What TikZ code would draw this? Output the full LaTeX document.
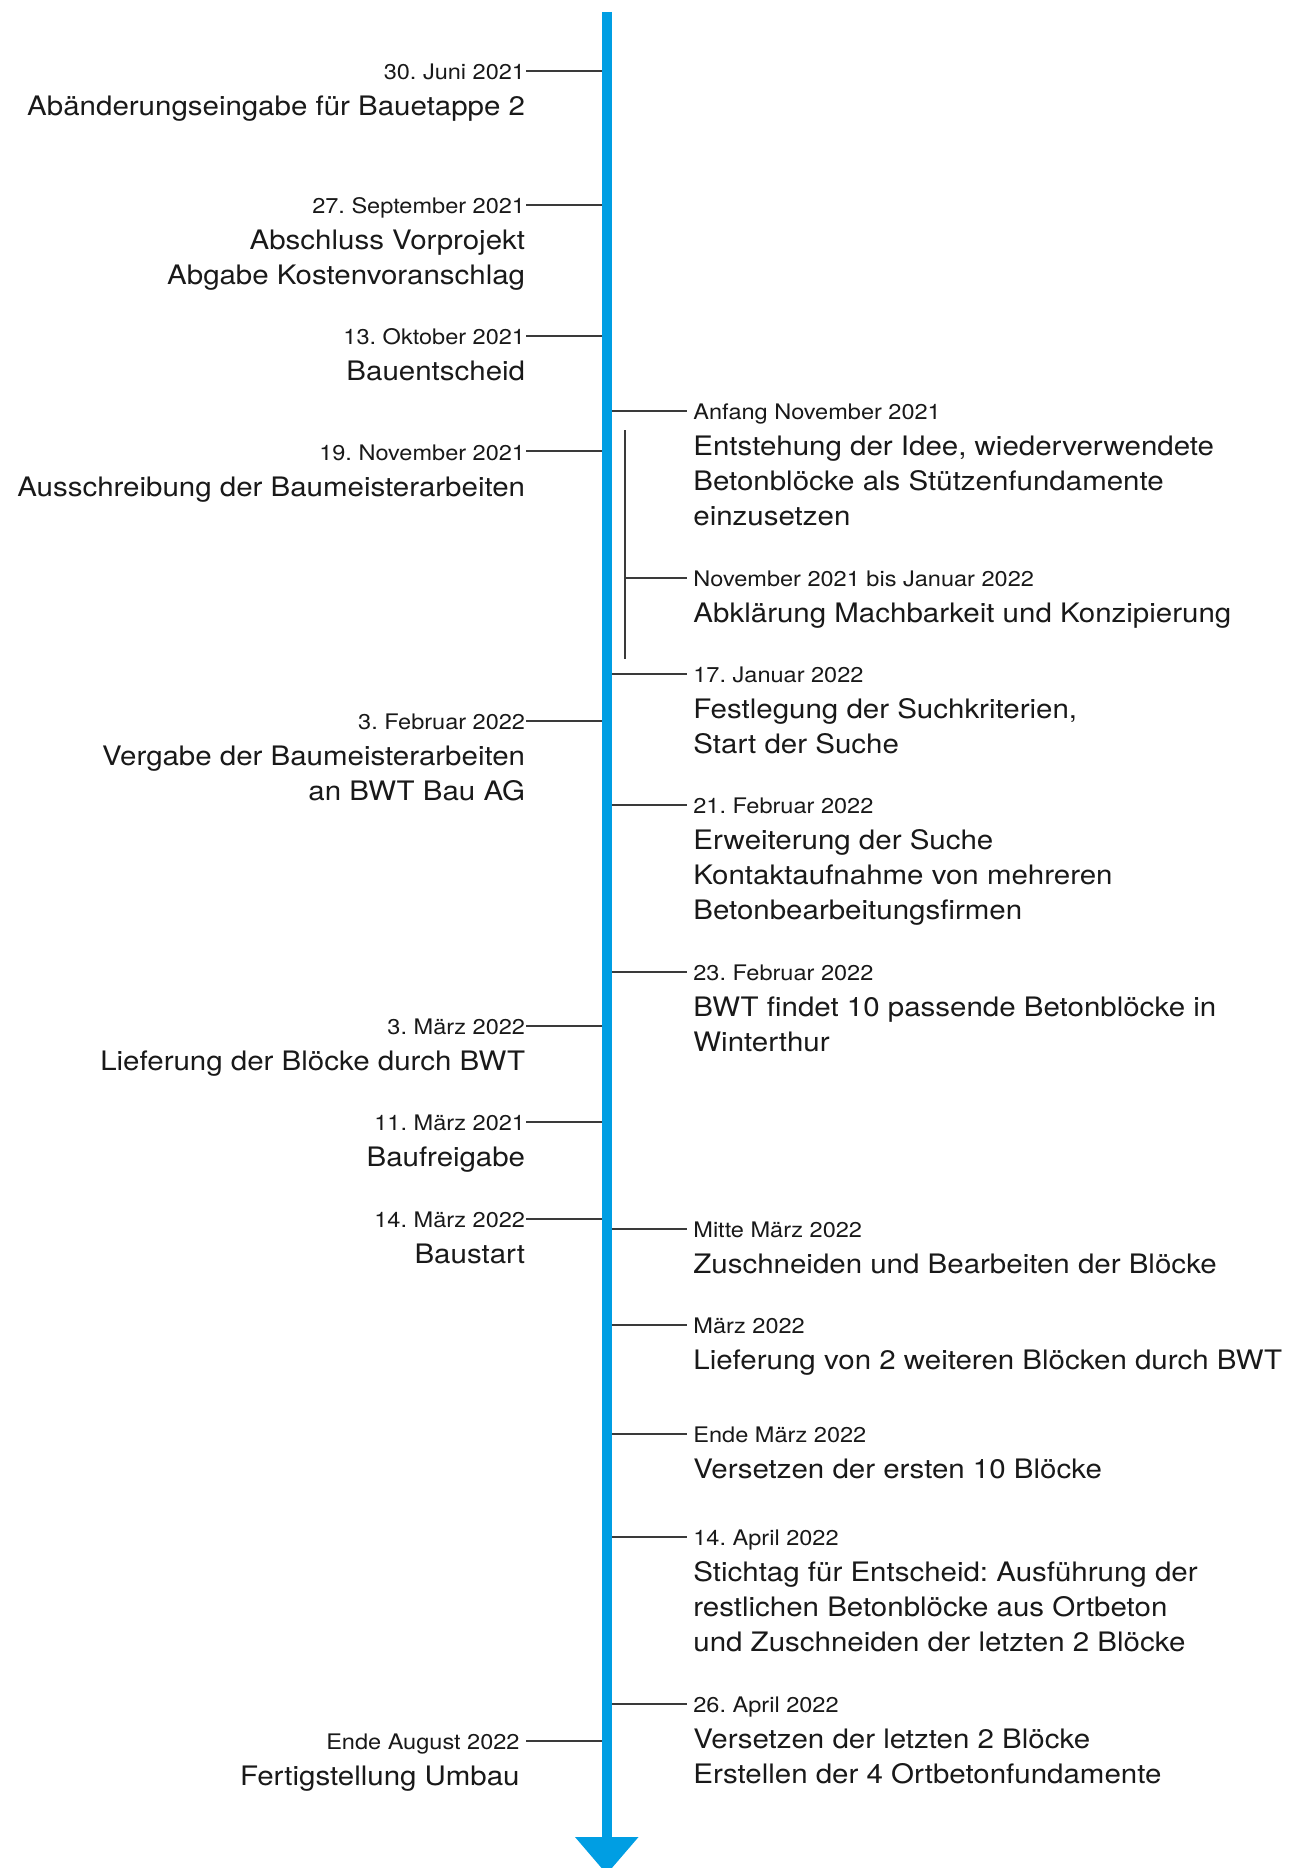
\documentclass[tikz,border=0pt]{standalone}
\usepackage{fontspec}
\newfontfamily\hel[FakeStretch=1.1]{TeX Gyre Heros}
\frenchspacing
\definecolor{spineblue}{RGB}{0,158,227}
\definecolor{tickgray}{RGB}{58,58,58}
\definecolor{txt}{RGB}{25,25,25}
\newcommand{\datefont}{\hel\frenchspacing\fontsize{10.7pt}{12pt}\selectfont}
\newcommand{\titlefont}{\hel\frenchspacing\fontsize{13.4pt}{17.5pt}\selectfont}
\newcommand{\RStack}[1]{\vtop{\baselineskip=17.5pt\lineskip=0pt\lineskiplimit=-20pt\halign{\hfil##\cr#1\crcr}}}
\newcommand{\LStack}[1]{\vtop{\baselineskip=17.5pt\lineskip=0pt\lineskiplimit=-20pt\halign{##\hfil\cr#1\crcr}}}
\tikzset{
  datel/.style={font=\datefont, text=txt, anchor=base east, inner sep=0pt},
  dater/.style={font=\datefont, text=txt, anchor=base west, inner xsep=3pt, inner ysep=0pt},
  titl/.style={font=\titlefont, text=txt, anchor=base east, inner sep=0pt},
  titr/.style={font=\titlefont, text=txt, anchor=base west, inner sep=0pt},
  tickline/.style={draw=tickgray, line width=1pt},
  spine/.style={draw=spineblue, line width=5pt},
}
\begin{document}
\begin{tikzpicture}[x=0.5pt, y=-0.5pt]
\useasboundingbox (0,0) rectangle (1290,1868);
\fill[white] (0,0) rectangle (1290,1868);

% ---------- left side ----------
\node[datel] (dl1) at (525.5,80) {30. Juni 2021};
\node[titl] (tl1) at (525.5,116) {\RStack{Abänderungseingabe für Bauetappe 2}};
\node[datel] (dl2) at (525.5,213.5) {27. September 2021};
\node[titl] (tl2) at (525.5,249.5) {\RStack{Abschluss Vorprojekt\cr Abgabe Kostenvoranschlag}};
\node[datel] (dl3) at (525.5,344.5) {13. Oktober 2021};
\node[titl] (tl3) at (525.5,380.5) {\RStack{Bauentscheid}};
\node[datel] (dl4) at (525.5,460) {19. November 2021};
\node[titl] (tl4) at (525.5,496) {\RStack{Ausschreibung der Baumeisterarbeiten}};
\node[datel] (dl5) at (525.5,729) {3. Februar 2022};
\node[titl] (tl5) at (525.5,765) {\RStack{Vergabe der Baumeisterarbeiten\cr an BWT Bau AG}};
\node[datel] (dl6) at (525.5,1034) {3. März 2022};
\node[titl] (tl6) at (525.5,1070) {\RStack{Lieferung der Blöcke durch BWT}};
\node[datel] (dl7) at (525.5,1130.5) {11. März 2021};
\node[titl] (tl7) at (525.5,1166.5) {\RStack{Baufreigabe}};
\node[datel] (dl8) at (525.5,1227) {14. März 2022};
\node[titl] (tl8) at (525.5,1263) {\RStack{Baustart}};
\node[datel, inner xsep=3pt] (dl9) at (526,1749) {Ende August 2022};
\node[titl] (tl9) at (520,1785) {\RStack{Fertigstellung Umbau}};

\coordinate (sl1) at (606.7,71.5);
\coordinate (sl2) at (606.7,205);
\coordinate (sl3) at (606.7,336);
\coordinate (sl4) at (606.7,451.4);
\coordinate (sl5) at (606.7,720.6);
\coordinate (sl6) at (606.7,1025.5);
\coordinate (sl7) at (606.7,1122);
\coordinate (sl8) at (606.7,1218.5);
\coordinate (sl9) at (606.7,1740.5);
\foreach \i in {1,...,9}{
  \draw[tickline] (sl\i) -- (sl\i -| dl\i.east);
}

% ---------- right side ----------
\node[dater] (dra) at (687,419.5) {Anfang November 2021};
\node[titr] (tra) at (693,455.5) {\LStack{Entstehung der Idee, wiederverwendete\cr Betonblöcke als Stützenfundamente\cr einzusetzen}};
\node[dater] (drb) at (687,586) {November 2021 bis Januar 2022};
\node[titr] (trb) at (693,622) {\LStack{Abklärung Machbarkeit und Konzipierung}};
\node[dater] (drc) at (687,682.7) {17. Januar 2022};
\node[titr] (trc) at (693,718.7) {\LStack{Festlegung der Suchkriterien,\cr Start der Suche}};
\node[dater] (drd) at (687,813.7) {21. Februar 2022};
\node[titr] (trd) at (693,849.7) {\LStack{Erweiterung der Suche\cr Kontaktaufnahme von mehreren\cr Betonbearbeitungsfirmen}};
\node[dater] (dre) at (687,980.4) {23. Februar 2022};
\node[titr] (tre) at (693,1016.4) {\LStack{BWT findet 10 passende Betonblöcke in\cr Winterthur}};
\node[dater] (drf) at (687,1237.7) {Mitte März 2022};
\node[titr] (trf) at (693,1273.7) {\LStack{Zuschneiden und Bearbeiten der Blöcke}};
\node[dater] (drg) at (687,1333) {März 2022};
\node[titr] (trg) at (693,1369.5) {\LStack{Lieferung von 2 weiteren Blöcken durch BWT}};
\node[dater] (drh) at (687,1442.6) {Ende März 2022};
\node[titr] (trh) at (693,1478.6) {\LStack{Versetzen der ersten 10 Blöcke}};
\node[dater] (dri) at (687,1545) {14. April 2022};
\node[titr] (tri) at (693,1581) {\LStack{Stichtag für Entscheid: Ausführung der\cr restlichen Betonblöcke aus Ortbeton\cr und Zuschneiden der letzten 2 Blöcke}};
\node[dater] (drj) at (687,1712) {26. April 2022};
\node[titr] (trj) at (693,1748) {\LStack{Versetzen der letzten 2 Blöcke\cr Erstellen der 4 Ortbetonfundamente}};

\coordinate (sra) at (606.7,411);
\coordinate (src) at (606.7,674.2);
\coordinate (srd) at (606.7,805.2);
\coordinate (sre) at (606.7,971.9);
\coordinate (srf) at (606.7,1229.2);
\coordinate (srg) at (606.7,1324.5);
\coordinate (srh) at (606.7,1434.1);
\coordinate (sri) at (606.7,1536.5);
\coordinate (srj) at (606.7,1703.5);
\foreach \k in {a,c,d,e,f,g,h,i,j}{
  \draw[tickline] (sr\k) -- (sr\k -| dr\k.west);
}

% sub bracket
\coordinate (bt) at (625,430);
\coordinate (bb) at (625,658.5);
\coordinate (bm) at (625,577.5);
\draw[tickline] (bt) -- (bb);
\draw[tickline] (bm) -- (bm -| drb.west);

% ---------- spine ----------
\coordinate (top) at (606.7,12);
\coordinate (bot) at (606.7,1840);
\draw[spine] (top) -- (bot);
\begin{scope}
\clip (0,0) rectangle (1290,1868);
\fill[spineblue] (575,1837) -- (638.5,1837) -- (606.7,1874) -- cycle;
\end{scope}
\end{tikzpicture}
\end{document}
